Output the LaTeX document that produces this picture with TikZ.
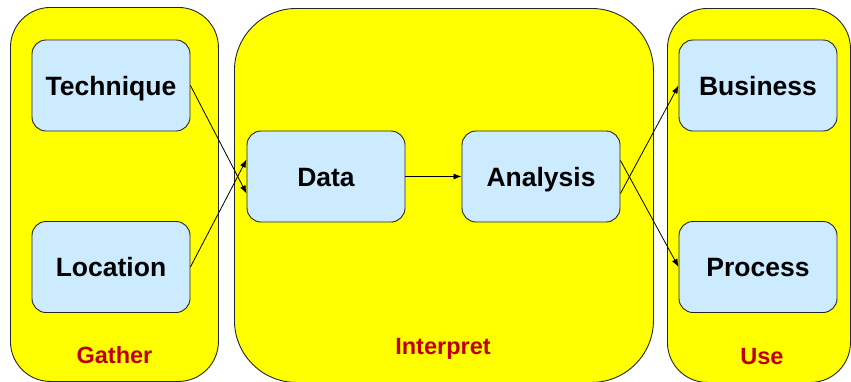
\documentclass[tikz,border=0pt]{standalone}
\usepackage{fontspec}
\setmainfont{Liberation Sans}
\usetikzlibrary{arrows.meta}
\definecolor{panelyellow}{HTML}{FFFF00}
\definecolor{boxblue}{HTML}{CCEBFF}
\definecolor{labelred}{HTML}{C00000}
\tikzset{
  panel/.style={draw=black!85, line width=0.9pt, fill=panelyellow, anchor=north west, inner sep=0pt},
  stage/.style={draw=black!85, line width=0.9pt, fill=boxblue, rounded corners=14pt,
    minimum width=158pt, minimum height=91pt, inner sep=0pt,
    text height=19pt, text depth=0pt,
    font=\fontsize{26.5}{31}\selectfont\bfseries},
  phase/.style={text=labelred, inner sep=0pt, text height=16.8pt, text depth=0pt,
    font=\fontsize{23.5}{28}\selectfont\bfseries},
  flow/.style={-{Latex[length=8pt,width=6pt]}, line width=0.8pt}
}
\begin{document}
\begin{tikzpicture}[x=1pt, y=-1pt]
  \useasboundingbox (0,0) rectangle (851,381);
  % phase panels
  \node[panel, rounded corners=40pt, minimum width=208pt, minimum height=374pt] (gather) at (10,7) {};
  \node[panel, rounded corners=62pt, minimum width=419pt, minimum height=374pt] (interpret) at (234,8) {};
  \node[panel, rounded corners=40pt, minimum width=183pt, minimum height=374pt] (use) at (667,8) {};
  % phase labels
  \node[phase] (gatherlbl) at (114.5,355.5) {Gather};
  \node[phase] (interpretlbl) at (443,346) {Interpret};
  \node[phase] (uselbl) at (762,356.5) {Use};
  % stages
  \node[stage] (technique) at (111,85.5) {Technique};
  \node[stage] (location) at (111,267) {Location};
  \node[stage] (data) at (326,176.5) {Data};
  \node[stage] (analysis) at (541,176.5) {Analysis};
  \node[stage] (business) at (758,85.5) {Business};
  \node[stage] (process) at (758,267) {Process};
  % connectors
  \draw[flow] (technique.east) -- ([yshift=-17pt]data.west);
  \draw[flow] (location.east) -- ([yshift=17pt]data.west);
  \draw[flow] (data.east) -- (analysis.west);
  \draw[flow] ([yshift=-17pt]analysis.east) -- (business.west);
  \draw[flow] ([yshift=16pt]analysis.east) -- (process.west);
\end{tikzpicture}
\end{document}
